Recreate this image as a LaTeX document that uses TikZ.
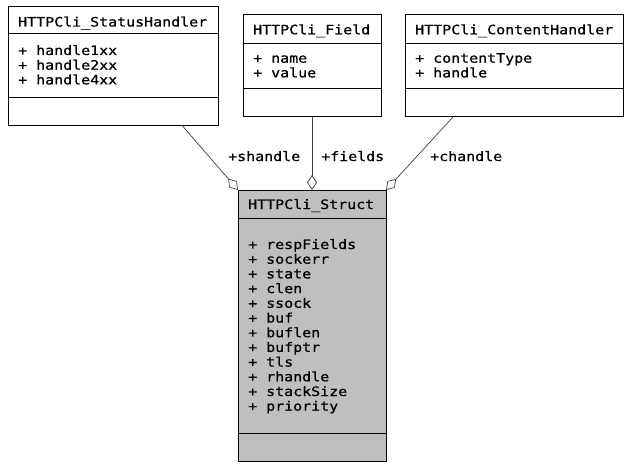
\documentclass[tikz,border=0pt]{standalone}
\usepackage{fontspec}
\setmainfont[FakeStretch=1.15,FakeBold=0.8]{DejaVu Sans Mono}
\usetikzlibrary{arrows.meta,calc}
\definecolor{boxgray}{RGB}{191,191,191}
\begin{document}
\begin{tikzpicture}[x=1pt,y=-1pt,
  cls/.style={draw=black,line width=1pt,inner sep=0pt,outer sep=0pt},
  txt/.style={anchor=base west,inner sep=0pt,font=\fontsize{13}{14}\selectfont},
  conn/.style={draw=black!75,line width=0.7pt,-{Diamond[open,length=15pt,width=10pt]}}]
\useasboundingbox (0,0) rectangle (631,468);
% classes
\node[cls,minimum width=210pt,minimum height=118pt] (sh) at (113,66) {};
\node[cls,minimum width=138pt,minimum height=102pt] (fi) at (312,66) {};
\node[cls,minimum width=218pt,minimum height=102pt] (ch) at (514,66) {};
\node[cls,fill=boxgray,minimum width=148pt,minimum height=271pt] (st) at (312,325.5) {};
% separators
\draw[line width=1pt] (8,34) -- (218,34) (8,98) -- (218,98);
\draw[line width=1pt] (243,44) -- (381,44) (243,89) -- (381,89);
\draw[line width=1pt] (405,44) -- (623,44) (405,89) -- (623,89);
\draw[line width=1pt] (238,218) -- (386,218) (238,433) -- (386,433);
% texts
\node[txt] (shT) at (18,26.5) {HTTPCli\_StatusHandler};
\foreach \t [count=\i from 0] in {handle1xx,handle2xx,handle4xx}
  \node[txt] (sh\i) at (18,55+\i*14.7) {+ \t};
\node[txt] (fiT) at (253,34.3) {HTTPCli\_Field};
\foreach \t [count=\i from 0] in {name,value}
  \node[txt] (fi\i) at (253,62.7+\i*14.7) {+ \t};
\node[txt] (chT) at (415,34.3) {HTTPCli\_ContentHandler};
\foreach \t [count=\i from 0] in {contentType,handle}
  \node[txt] (ch\i) at (415,62.7+\i*14.7) {+ \t};
\node[txt] (stT) at (248,209) {HTTPCli\_Struct};
\foreach \t [count=\i from 0] in {respFields,sockerr,state,clen,ssock,buf,buflen,bufptr,tls,rhandle,stackSize,priority}
  \node[txt] (st\i) at (248,249+\i*14.7) {+ \t};
% connectors
\draw[conn] ($(sh.south west)!0.827!(sh.south east)$) -- (st.north west);
\draw[conn] (fi.south) -- (st.north);
\draw[conn] ($(ch.south west)!0.22!(ch.south east)$) -- (st.north east);
% labels
\node[txt] (l1) at (228,161) {+shandle};
\node[txt] (l2) at (321,161) {+fields};
\node[txt] (l3) at (430,161) {+chandle};
\end{tikzpicture}
\end{document}
